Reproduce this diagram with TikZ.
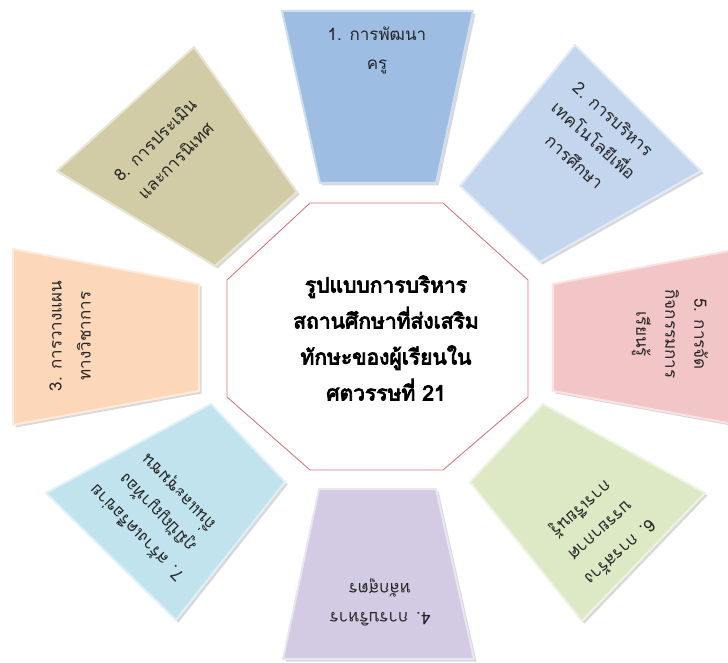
\documentclass[tikz,border=0pt]{standalone}
\usepackage{fontspec}
\newfontfamily\thaifont[Script=Thai]{Loma}
\newfontfamily\thaibold[Script=Thai, FakeBold=4]{Loma}
\usetikzlibrary{shadows}
\definecolor{cA}{HTML}{9DBDE3}
\definecolor{cB}{HTML}{C3D6EE}
\definecolor{cC}{HTML}{FCD7B9}
\definecolor{cD}{HTML}{D3CBE3}
\definecolor{cE}{HTML}{F2C5C6}
\definecolor{cF}{HTML}{DDE8C5}
\definecolor{cG}{HTML}{C0E3EE}
\definecolor{cH}{HTML}{D2CCA6}
\definecolor{octred}{HTML}{D9797A}
\tikzset{
  petal/.style={fill=#1, draw=#1!50!white, line width=2pt, line join=round,
    drop shadow={opacity=0.3, shadow xshift=2.5pt, shadow yshift=-2.5pt}},
  lbl/.style={font=\thaifont\fontsize{17}{29}\selectfont, align=center, text=black!85},
  ctext/.style={font=\thaibold\fontsize{21}{36}\selectfont, align=center, text=black},
  octa/.style={draw=octred, fill=white, line width=0.9pt, line join=miter}
}
\begin{document}
\begin{tikzpicture}[x=1pt,y=-1pt]
\useasboundingbox (0,0) rectangle (728,663);
\fill[white] (0,0) rectangle (728,663);
% petals
\draw[petal=cA] (282,11) -- (473,11) -- (436,183) -- (320,183) -- cycle;
\draw[petal=cB] (575,45) -- (701,171) -- (540,262) -- (460,186) -- cycle;
\draw[petal=cC] (13,249) -- (199,284) -- (199,391) -- (13,425) -- cycle;
\draw[petal=cD] (319,489) -- (436,489) -- (474,659) -- (283,659) -- cycle;
\draw[petal=cE] (553,284) -- (739,249) -- (739,425) -- (553,391) -- cycle;
\draw[petal=cF] (543,404) -- (705,493) -- (582,621) -- (470,482) -- cycle;
\draw[petal=cG] (211,404) -- (285,482) -- (176,620) -- (46,493) -- cycle;
\draw[petal=cH] (194,47) -- (297,192) -- (215,266) -- (57,171) -- cycle;
% centre
\draw[octa] (310,203) -- (443,203) -- (528,280) -- (528,397) -- (443,470) -- (310,470) -- (227,397) -- (227,280) -- cycle;
\node[ctext] (c) at (386,338) {รูปแบบการบริหาร\\สถานศึกษาที่ส่งเสริม\\ทักษะของผู้เรียนใน\\ศตวรรษที่ 21};
% labels
\node[lbl] (t1) at (377,50) {1. การพัฒนา\\ครู};
\node[lbl, rotate=-42] (t2) at (594,140) {2. การบริหาร\\เทคโนโลยีเพื่อ\\การศึกษา};
\node[lbl, rotate=90] (t3) at (70,336) {3. การวางแผน\\ทางวิชาการ};
\node[lbl, rotate=180] (t4) at (380,603) {4. การบริหาร\\หลักสูตร};
\node[lbl, rotate=-90] (t5) at (670,334) {5. การจัด\\กิจกรรมการ\\เรียนรู้};
\node[lbl, rotate=-138] (t6) at (600,530) {6. การสร้าง\\บรรยากาศ\\การเรียนรู้};
\node[lbl, rotate=134] (t7) at (158,512) {7. สร้างเครือข่าย\\ภูมิปัญญาท้อง\\ถิ่นและชุมชน};
\node[lbl, rotate=45] (t8) at (165,150) {8. การประเมิน\\และการนิเทศ};
\end{tikzpicture}
\end{document}
